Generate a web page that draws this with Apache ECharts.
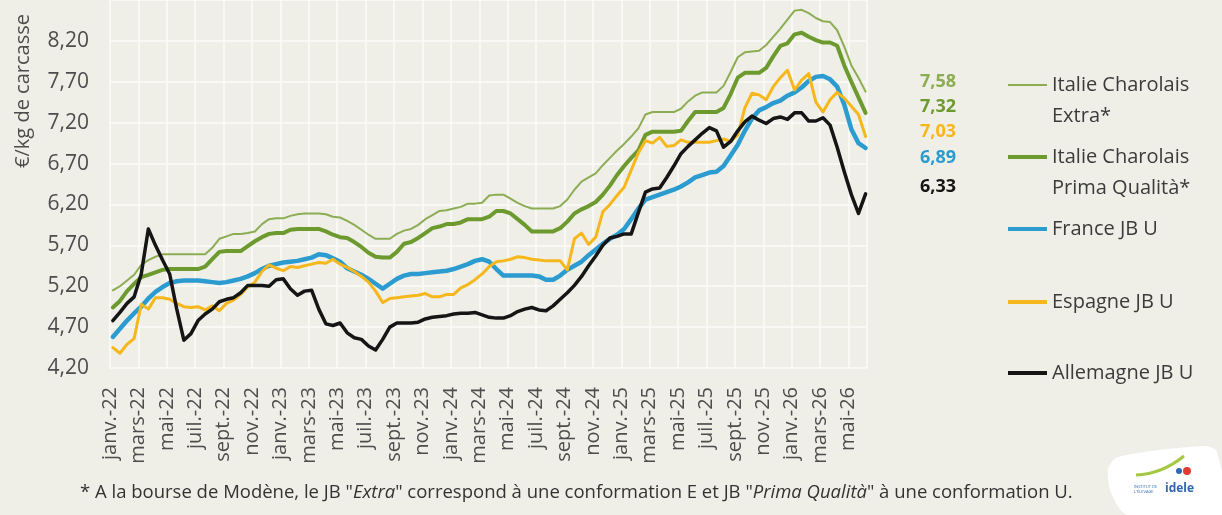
<!DOCTYPE html>
<html>
<head>
<meta charset="utf-8">
<script src="https://cdn.jsdelivr.net/npm/echarts@6/dist/echarts.min.js"></script>
<style>
  html, body { margin: 0; padding: 0; background: #efefe8; }
  #chart { width: 1222px; height: 515px; }
</style>
</head>
<body>
<div id="chart"></div>
<script>
// axe des x : mois depuis janv. 2022, un point par quinzaine
const tickLabels = ['janv.-22', 'mars-22', 'mai-22', 'juil.-22', 'sept.-22', 'nov.-22',
  'janv.-23', 'mars-23', 'mai-23', 'juil.-23', 'sept.-23', 'nov.-23',
  'janv.-24', 'mars-24', 'mai-24', 'juil.-24', 'sept.-24', 'nov.-24',
  'janv.-25', 'mars-25', 'mai-25', 'juil.-25', 'sept.-25', 'nov.-25',
  'janv.-26', 'mars-26', 'mai-26'];
const xStart = 0.2;
const xStep = 0.5;

// €/kg de carcasse
const italieExtra = [5.15,5.20,5.27,5.34,5.46,5.52,5.56,5.59,5.59,5.59,
  5.59,5.59,5.59,5.59,5.67,5.78,5.81,5.84,5.84,5.85,
  5.87,5.96,6.02,6.03,6.03,6.06,6.08,6.09,6.09,6.09,
  6.08,6.05,6.04,6.00,5.95,5.89,5.83,5.78,5.78,5.78,
  5.84,5.88,5.90,5.95,6.02,6.07,6.12,6.13,6.15,6.17,
  6.21,6.21,6.22,6.31,6.32,6.32,6.27,6.22,6.18,6.15,
  6.15,6.15,6.15,6.18,6.26,6.38,6.48,6.53,6.58,6.68,
  6.77,6.86,6.94,7.03,7.13,7.30,7.33,7.33,7.33,7.33,
  7.37,7.46,7.53,7.57,7.57,7.57,7.65,7.82,8.00,8.06,
  8.07,8.08,8.15,8.25,8.35,8.46,8.57,8.58,8.54,8.48,
  8.44,8.43,8.33,8.13,7.90,7.75,7.58];
const italiePrima = [4.94,5.02,5.14,5.23,5.31,5.34,5.37,5.40,5.41,5.41,
  5.41,5.41,5.41,5.44,5.53,5.62,5.63,5.63,5.63,5.69,
  5.75,5.80,5.84,5.85,5.85,5.89,5.90,5.90,5.90,5.90,
  5.87,5.83,5.80,5.79,5.74,5.68,5.61,5.56,5.55,5.55,
  5.62,5.72,5.74,5.79,5.85,5.91,5.93,5.96,5.96,5.98,
  6.02,6.02,6.02,6.05,6.12,6.12,6.09,6.02,5.95,5.87,
  5.87,5.87,5.87,5.91,5.99,6.09,6.14,6.18,6.23,6.32,
  6.43,6.56,6.67,6.77,6.86,7.05,7.09,7.09,7.09,7.09,
  7.10,7.22,7.33,7.33,7.33,7.33,7.38,7.55,7.75,7.81,
  7.81,7.81,7.87,8.01,8.14,8.17,8.28,8.30,8.25,8.21,
  8.18,8.18,8.14,7.90,7.70,7.51,7.32];
const franceJBU = [4.58,4.68,4.78,4.87,4.95,5.05,5.13,5.19,5.24,5.26,
  5.27,5.27,5.27,5.26,5.25,5.24,5.25,5.27,5.29,5.32,
  5.36,5.41,5.45,5.47,5.49,5.50,5.51,5.53,5.55,5.59,
  5.58,5.54,5.50,5.42,5.38,5.34,5.29,5.23,5.17,5.23,
  5.29,5.33,5.35,5.35,5.36,5.37,5.38,5.39,5.41,5.44,
  5.47,5.51,5.53,5.50,5.41,5.33,5.33,5.33,5.33,5.33,
  5.32,5.28,5.28,5.33,5.40,5.45,5.50,5.58,5.65,5.72,
  5.78,5.83,5.90,6.02,6.15,6.26,6.29,6.32,6.35,6.38,
  6.42,6.47,6.53,6.56,6.59,6.60,6.67,6.80,6.93,7.10,
  7.25,7.35,7.39,7.44,7.47,7.53,7.57,7.63,7.71,7.76,
  7.77,7.73,7.64,7.42,7.12,6.95,6.89];
const espagneJBU = [4.45,4.38,4.49,4.56,4.98,4.92,5.06,5.06,5.04,4.99,
  4.95,4.94,4.95,4.91,4.96,4.90,4.99,5.03,5.10,5.19,
  5.25,5.38,5.46,5.42,5.39,5.44,5.43,5.45,5.47,5.49,
  5.48,5.53,5.47,5.43,5.38,5.32,5.25,5.14,5.00,5.05,
  5.06,5.07,5.08,5.09,5.11,5.07,5.07,5.10,5.10,5.18,
  5.22,5.28,5.35,5.44,5.50,5.51,5.53,5.56,5.55,5.53,
  5.52,5.51,5.51,5.51,5.40,5.78,5.85,5.71,5.80,6.11,
  6.20,6.31,6.41,6.62,6.83,6.98,6.95,7.02,6.91,6.92,
  6.99,6.96,6.96,6.96,6.96,6.98,7.00,6.97,7.05,7.38,
  7.56,7.54,7.48,7.64,7.75,7.84,7.60,7.72,7.80,7.45,
  7.33,7.48,7.57,7.50,7.40,7.30,7.03];
const allemagneJBU = [4.78,4.88,4.99,5.07,5.35,5.90,5.70,5.52,5.35,4.92,
  4.54,4.62,4.78,4.86,4.92,5.01,5.04,5.06,5.12,5.21,
  5.21,5.21,5.20,5.28,5.29,5.17,5.09,5.14,5.15,4.92,
  4.74,4.72,4.75,4.63,4.57,4.55,4.47,4.42,4.55,4.70,
  4.75,4.75,4.75,4.76,4.80,4.82,4.83,4.84,4.86,4.87,
  4.87,4.88,4.85,4.82,4.81,4.81,4.84,4.89,4.92,4.94,
  4.91,4.90,4.96,5.04,5.12,5.21,5.32,5.45,5.57,5.70,
  5.79,5.81,5.84,5.84,6.10,6.35,6.39,6.40,6.53,6.67,
  6.82,6.91,6.99,7.07,7.14,7.10,6.90,6.97,7.10,7.21,
  7.28,7.23,7.19,7.25,7.27,7.24,7.32,7.32,7.22,7.22,
  7.26,7.17,6.90,6.60,6.32,6.09,6.33];

const seriesDefs = [
  { name: 'Italie Charolais\nExtra*', data: italieExtra, color: '#8cad54', width: 2, legendY: 85, valueY: 82 },
  { name: 'Italie Charolais\nPrima Qualità*', data: italiePrima, color: '#6d9a2e', width: 4, legendY: 157, valueY: 107 },
  { name: 'France JB U', data: franceJBU, color: '#2b9bd0', width: 4.5, legendY: 229, valueY: 158 },
  { name: 'Espagne JB U', data: espagneJBU, color: '#f5b71c', width: 3, legendY: 302, valueY: 132 },
  { name: 'Allemagne JB U', data: allemagneJBU, color: '#151515', width: 3.5, legendY: 373, valueY: 187 }
];

function toPoints(values) {
  return values.map((v, i) => [xStart + i * xStep, v]);
}
function frNum(v) {
  return v.toFixed(2).replace('.', ',');
}

const chart = echarts.init(document.getElementById('chart'));

const graphics = [];
// titre de l'axe des y
graphics.push({
  type: 'text', x: 23, y: 91, rotation: Math.PI / 2, silent: true,
  style: { text: '€/kg de carcasse', font: '20px "Open Sans"', fill: '#4d4d4d', align: 'center', verticalAlign: 'middle' }
});
// légende + dernières valeurs
seriesDefs.forEach(s => {
  graphics.push({
    type: 'line', silent: true,
    shape: { x1: 1008, y1: s.legendY, x2: 1047, y2: s.legendY },
    style: { stroke: s.color, lineWidth: s.width === 2 ? 2 : 4 }
  });
  graphics.push({
    type: 'text', x: 1052, y: s.legendY - 15, silent: true,
    style: { text: s.name, font: '20px "Open Sans"', lineHeight: 31, fill: '#3b3b3b', align: 'left', verticalAlign: 'top' }
  });
  graphics.push({
    type: 'text', x: 956, y: s.valueY, silent: true,
    style: { text: frNum(s.data[s.data.length - 1]), font: 'bold 18px "Open Sans"', fill: s.color, align: 'right', verticalAlign: 'middle' }
  });
});
// note de bas de page
graphics.push({
  type: 'text', x: 80, y: 493, silent: true,
  style: {
    text: '* A la bourse de Modène, le JB "{i|Extra}" correspond à une conformation E et JB "{i|Prima Qualità}" à une conformation U.',
    font: '18.5px "Open Sans"', fill: '#333', verticalAlign: 'middle',
    rich: { i: { fontStyle: 'italic', fontSize: 18.5, fontFamily: 'Open Sans', fill: '#333' } }
  }
});
// logo idele (approximatif)
graphics.push({
  type: 'polygon', silent: true,
  shape: { points: [[1108, 470], [1118, 457], [1204, 446], [1217, 452], [1222, 515], [1128, 515], [1112, 495]], smooth: 0.3 },
  style: { fill: '#ffffff' }
});
graphics.push({
  type: 'bezierCurve', silent: true,
  shape: { x1: 1136, y1: 475, x2: 1184, y2: 456, cpx1: 1162, cpy1: 474 },
  style: { stroke: '#a5c843', lineWidth: 3, fill: null }
});
graphics.push({ type: 'circle', silent: true, shape: { cx: 1179, cy: 471, r: 3 }, style: { fill: '#2f67b1' } });
graphics.push({ type: 'circle', silent: true, shape: { cx: 1187, cy: 471, r: 4 }, style: { fill: '#e03c31' } });
graphics.push({
  type: 'text', x: 1165, y: 489, silent: true,
  style: { text: 'idele', font: 'bold 12px "Open Sans"', fill: '#2f67b1', verticalAlign: 'middle' }
});
graphics.push({
  type: 'text', x: 1134, y: 489, silent: true,
  style: { text: 'INSTITUT DE\nL\'ÉLEVAGE', font: '4px "Open Sans"', lineHeight: 5, fill: '#2f67b1', verticalAlign: 'middle' }
});

const option = {
  animation: false,
  backgroundColor: '#efefe8',
  textStyle: { fontFamily: 'Open Sans' },
  grid: { left: 110, top: -3, width: 757, height: 371 },
  xAxis: {
    type: 'value',
    min: 0,
    max: 53.3,
    interval: 2,
    axisLine: { show: false },
    axisTick: { show: false },
    splitLine: { show: true, lineStyle: { color: '#fbfbf8', width: 1.5 } },
    axisLabel: {
      rotate: 90,
      margin: 19,
      fontSize: 20,
      color: '#4d4d4d',
      showMaxLabel: false,
      formatter: v => {
        const k = Math.round(v / 2);
        return Math.abs(v - 2 * k) < 1e-6 ? (tickLabels[k] || '') : '';
      }
    }
  },
  yAxis: {
    type: 'value',
    min: 4.2,
    max: 8.7,
    interval: 0.5,
    axisLine: { show: false },
    axisTick: { show: false },
    splitLine: { show: true, lineStyle: { color: '#fbfbf8', width: 1.5 } },
    axisLabel: {
      margin: 21,
      fontSize: 21,
      color: '#4d4d4d',
      showMaxLabel: false,
      formatter: v => frNum(v)
    }
  },
  series: seriesDefs.map(s => ({
    name: s.name,
    type: 'line',
    data: toPoints(s.data),
    showSymbol: false,
    symbol: 'none',
    smooth: false,
    lineStyle: { color: s.color, width: s.width, join: 'round', cap: 'round' },
    itemStyle: { color: s.color }
  })),
  graphic: graphics
};

chart.setOption(option);
</script>
</body>
</html>
